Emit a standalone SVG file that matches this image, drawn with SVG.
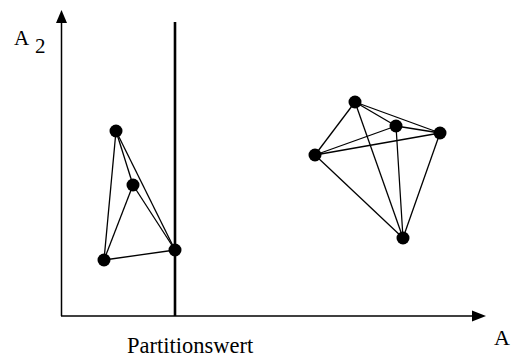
<svg xmlns="http://www.w3.org/2000/svg" width="517" height="360" viewBox="0 0 517 360">
<style>
.ax{stroke:#000;stroke-width:1.5;fill:none}
.part{stroke:#000;stroke-width:2.6}
.e{stroke:#000;stroke-width:1.3}
.n{fill:#000}
</style>
<rect width="517" height="360" fill="#fff"/>
<g id="axes">
<line class="ax" x1="61.5" y1="316" x2="61.5" y2="20"/>
<polygon points="61.5,10 56,23 67,23" fill="#000"/>
<line class="ax" x1="61" y1="316" x2="474" y2="316"/>
<polygon points="486,316 472,310.5 472,321.5" fill="#000"/>
<line class="part" x1="175" y1="22" x2="175" y2="316"/>
<text style="font-family:'Liberation Serif'" x="14" y="45" font-size="21">A</text>
<text style="font-family:'Liberation Serif'" x="35" y="53" font-size="21">2</text>
<text style="font-family:'Liberation Serif'" x="494" y="345" font-size="22">A</text>
<text style="font-family:'Liberation Serif'" x="127" y="353" font-size="22.5">Partitionswert</text>
</g>
<g id="connectors">
<line class="e" x1="116" y1="131" x2="104" y2="260"/>
<line class="e" x1="116" y1="131" x2="133" y2="185"/>
<line class="e" x1="116" y1="131" x2="175" y2="250"/>
<line class="e" x1="133" y1="185" x2="104" y2="260"/>
<line class="e" x1="133" y1="185" x2="175" y2="250"/>
<line class="e" x1="104" y1="260" x2="175" y2="250"/>
<line class="e" x1="355" y1="102" x2="396" y2="126"/>
<line class="e" x1="355" y1="102" x2="440" y2="133"/>
<line class="e" x1="355" y1="102" x2="315" y2="155"/>
<line class="e" x1="355" y1="102" x2="403" y2="238"/>
<line class="e" x1="396" y1="126" x2="440" y2="133"/>
<line class="e" x1="396" y1="126" x2="315" y2="155"/>
<line class="e" x1="396" y1="126" x2="403" y2="238"/>
<line class="e" x1="440" y1="133" x2="315" y2="155"/>
<line class="e" x1="440" y1="133" x2="403" y2="238"/>
<line class="e" x1="315" y1="155" x2="403" y2="238"/>
</g>
<g id="n1"><circle class="n" cx="116" cy="131" r="6.5"/></g>
<g id="n2"><circle class="n" cx="133" cy="185" r="6.5"/></g>
<g id="n3"><circle class="n" cx="104" cy="260" r="6.5"/></g>
<g id="n4"><circle class="n" cx="175" cy="250" r="6.5"/></g>
<g id="n5"><circle class="n" cx="355" cy="102" r="6.5"/></g>
<g id="n6"><circle class="n" cx="396" cy="126" r="6.5"/></g>
<g id="n7"><circle class="n" cx="440" cy="133" r="6.5"/></g>
<g id="n8"><circle class="n" cx="315" cy="155" r="6.5"/></g>
<g id="n9"><circle class="n" cx="403" cy="238" r="6.5"/></g>
</svg>
